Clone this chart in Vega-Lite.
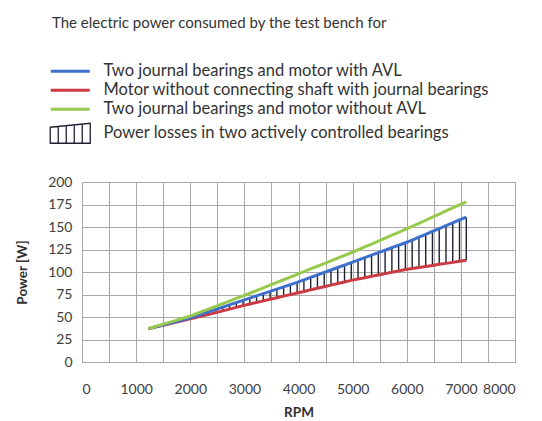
{
  "$schema": "https://vega.github.io/schema/vega-lite/v6.json",
  "width": 433,
  "height": 180,
  "autosize": {"type": "none"},
  "padding": {"left": 82, "top": 182, "right": 27, "bottom": 59},
  "background": "white",
  "config": {
    "font": "Lato",
    "view": {"stroke": "#a0a0a0", "strokeWidth": 1},
    "axis": {
      "labelFont": "Lato",
      "labelFontSize": 14,
      "labelColor": "#404040",
      "titleFont": "Lato",
      "titleFontSize": 13.5,
      "titleFontWeight": "bold",
      "titleColor": "#303030",
      "gridColor": "#a8a8a8",
      "gridOpacity": 1,
      "gridWidth": 1,
      "ticks": false,
      "domain": false
    }
  },
  "data": {
    "values": [
      {"rpm": 1225, "withAVL": 37, "motorOnly": 37, "withoutAVL": 37},
      {"rpm": 1350, "withAVL": 38.9, "motorOnly": 38.8, "withoutAVL": 39.3},
      {"rpm": 1475, "withAVL": 40.9, "motorOnly": 40.5, "withoutAVL": 41.5},
      {"rpm": 1600, "withAVL": 42.8, "motorOnly": 42.3, "withoutAVL": 43.8},
      {"rpm": 1725, "withAVL": 44.7, "motorOnly": 44.1, "withoutAVL": 46.0},
      {"rpm": 1850, "withAVL": 46.7, "motorOnly": 45.9, "withoutAVL": 48.3},
      {"rpm": 1975, "withAVL": 48.6, "motorOnly": 47.6, "withoutAVL": 50.5},
      {"rpm": 2100, "withAVL": 51, "motorOnly": 49.5, "withoutAVL": 53.3},
      {"rpm": 2225, "withAVL": 53.5, "motorOnly": 51.3, "withoutAVL": 56.2},
      {"rpm": 2350, "withAVL": 56, "motorOnly": 53.1, "withoutAVL": 59.1},
      {"rpm": 2475, "withAVL": 58.5, "motorOnly": 54.9, "withoutAVL": 61.9},
      {"rpm": 2600, "withAVL": 61, "motorOnly": 56.8, "withoutAVL": 64.8},
      {"rpm": 2725, "withAVL": 63.5, "motorOnly": 58.7, "withoutAVL": 67.7},
      {"rpm": 2850, "withAVL": 66, "motorOnly": 60.7, "withoutAVL": 70.6},
      {"rpm": 2975, "withAVL": 68.5, "motorOnly": 62.6, "withoutAVL": 73.4},
      {"rpm": 3100, "withAVL": 71, "motorOnly": 64.4, "withoutAVL": 76.4},
      {"rpm": 3225, "withAVL": 73.5, "motorOnly": 66.2, "withoutAVL": 79.4},
      {"rpm": 3350, "withAVL": 76, "motorOnly": 67.9, "withoutAVL": 82.4},
      {"rpm": 3475, "withAVL": 78.5, "motorOnly": 69.7, "withoutAVL": 85.4},
      {"rpm": 3600, "withAVL": 81, "motorOnly": 71.4, "withoutAVL": 88.4},
      {"rpm": 3725, "withAVL": 83.5, "motorOnly": 73.2, "withoutAVL": 91.4},
      {"rpm": 3850, "withAVL": 86, "motorOnly": 74.9, "withoutAVL": 94.4},
      {"rpm": 3975, "withAVL": 88.5, "motorOnly": 76.7, "withoutAVL": 97.4},
      {"rpm": 4100, "withAVL": 91.2, "motorOnly": 78.4, "withoutAVL": 100.4},
      {"rpm": 4225, "withAVL": 94, "motorOnly": 80.2, "withoutAVL": 103.4},
      {"rpm": 4350, "withAVL": 96.7, "motorOnly": 81.9, "withoutAVL": 106.4},
      {"rpm": 4475, "withAVL": 99.5, "motorOnly": 83.7, "withoutAVL": 109.4},
      {"rpm": 4600, "withAVL": 102.2, "motorOnly": 85.4, "withoutAVL": 112.4},
      {"rpm": 4725, "withAVL": 105, "motorOnly": 87.2, "withoutAVL": 115.4},
      {"rpm": 4850, "withAVL": 107.7, "motorOnly": 88.9, "withoutAVL": 118.4},
      {"rpm": 4975, "withAVL": 110.5, "motorOnly": 90.7, "withoutAVL": 121.4},
      {"rpm": 5100, "withAVL": 113.2, "motorOnly": 92.2, "withoutAVL": 124.6},
      {"rpm": 5225, "withAVL": 116, "motorOnly": 93.7, "withoutAVL": 127.9},
      {"rpm": 5350, "withAVL": 118.7, "motorOnly": 95.2, "withoutAVL": 131.1},
      {"rpm": 5475, "withAVL": 121.5, "motorOnly": 96.7, "withoutAVL": 134.4},
      {"rpm": 5600, "withAVL": 124.2, "motorOnly": 98.2, "withoutAVL": 137.6},
      {"rpm": 5725, "withAVL": 127, "motorOnly": 99.7, "withoutAVL": 140.9},
      {"rpm": 5850, "withAVL": 129.7, "motorOnly": 101.2, "withoutAVL": 144.1},
      {"rpm": 5975, "withAVL": 132.5, "motorOnly": 102.7, "withoutAVL": 147.4},
      {"rpm": 6100, "withAVL": 135.5, "motorOnly": 103.9, "withoutAVL": 150.7},
      {"rpm": 6225, "withAVL": 138.7, "motorOnly": 105, "withoutAVL": 154.1},
      {"rpm": 6350, "withAVL": 141.9, "motorOnly": 106.2, "withoutAVL": 157.5},
      {"rpm": 6475, "withAVL": 145.1, "motorOnly": 107.3, "withoutAVL": 160.9},
      {"rpm": 6600, "withAVL": 148.3, "motorOnly": 108.5, "withoutAVL": 164.4},
      {"rpm": 6725, "withAVL": 151.5, "motorOnly": 109.6, "withoutAVL": 167.8},
      {"rpm": 6850, "withAVL": 154.6, "motorOnly": 110.7, "withoutAVL": 171.2},
      {"rpm": 6975, "withAVL": 157.8, "motorOnly": 111.9, "withoutAVL": 174.6},
      {"rpm": 7100, "withAVL": 161, "motorOnly": 113, "withoutAVL": 178}
    ]
  },
  "layer": [
    {
      "transform": [{"filter": "datum.rpm >= 2350"}],
      "mark": {"type": "rule", "strokeWidth": 1.4},
      "encoding": {
        "x": {"field": "rpm", "type": "quantitative", "title": "RPM",
              "scale": {"domain": [0, 8000], "nice": false},
              "axis": {"values": [0,500,1000,1500,2000,2500,3000,3500,4000,4500,5000,5500,6000,6500,7000,7500,8000],
                       "format": "d", "labelExpr": "datum.value % 1000 === 0 ? datum.label : ''",
                       "labelPadding": 20, "titlePadding": 9}},
        "y": {"field": "motorOnly", "type": "quantitative", "title": "Power [W]",
              "scale": {"domain": [0, 200], "nice": false},
              "axis": {"values": [0,25,50,75,100,125,150,175,200], "labelPadding": 10, "titlePadding": 18}},
        "y2": {"field": "withAVL"},
        "color": {"datum": "losses", "type": "nominal"}
      }
    },
    {
      "transform": [{"fold": ["motorOnly", "withAVL", "withoutAVL"], "as": ["series", "power"]}],
      "mark": {"type": "line", "strokeWidth": 3},
      "encoding": {
        "x": {"field": "rpm", "type": "quantitative", "title": "RPM",
              "scale": {"domain": [0, 8000], "nice": false},
              "axis": {"values": [0,500,1000,1500,2000,2500,3000,3500,4000,4500,5000,5500,6000,6500,7000,7500,8000],
                       "format": "d", "labelExpr": "datum.value % 1000 === 0 ? datum.label : ''",
                       "labelPadding": 20, "titlePadding": 9}},
        "y": {"field": "power", "type": "quantitative", "title": "Power [W]",
              "scale": {"domain": [0, 200], "nice": false},
              "axis": {"values": [0,25,50,75,100,125,150,175,200], "labelPadding": 10, "titlePadding": 18}},
        "color": {
          "field": "series", "type": "nominal",
          "scale": {"domain": ["withAVL", "motorOnly", "withoutAVL", "losses"],
                    "range": ["#3d6fcc", "#cc3a44", "#96c94c", "#1e2030"]},
          "legend": {
            "title": "The electric power consumed by the test bench for",
            "orient": "none", "legendX": -30, "legendY": -166, "padding": 0,
            "titleFont": "Lato", "titleFontSize": 15, "titleFontWeight": "normal", "titleColor": "#333333",
            "titlePadding": 32, "titleLimit": 600,
            "labelFont": "Lato", "labelFontSize": 16.5, "labelColor": "#333333", "labelLimit": 600,
            "labelExpr": "datum.value === 'withAVL' ? 'Two journal bearings and motor with AVL' : datum.value === 'motorOnly' ? 'Motor without connecting shaft with journal bearings' : datum.value === 'withoutAVL' ? 'Two journal bearings and motor without AVL' : 'Power losses in two actively controlled bearings'",
            "symbolSize": 100, "symbolStrokeWidth": 3, "symbolOffset": 10, "labelOffset": 25, "rowPadding": 2,
            "encode": {
              "symbols": {
                "update": {
                  "shape": {"signal": "datum.index === 3 ? 'M-4,-1.2L4,-2L4,2L-4,2Z M-2.4,-1.36L-2.4,2 M-0.8,-1.52L-0.8,2 M0.8,-1.68L0.8,2 M2.4,-1.84L2.4,2' : 'M-3.9,0L3.9,0'"},
                  "fill": {"value": "transparent"},
                  "stroke": [
                    {"test": "datum.index === 3", "value": {"gradient": "linear", "x1": 0, "y1": 0, "x2": 0, "y2": 1, "stops": [{"offset": 0, "color": "#2f5fc0"}, {"offset": 0.5, "color": "#2a2a48"}, {"offset": 1, "color": "#c8383f"}]}},
                    {"scale": "color", "field": "value"}
                  ],
                  "strokeWidth": {"signal": "datum.index === 3 ? 1.3 : 3"},
                  "opacity": {"value": 1}
                }
              }
            }
          }
        }
      }
    }
  ]
}
